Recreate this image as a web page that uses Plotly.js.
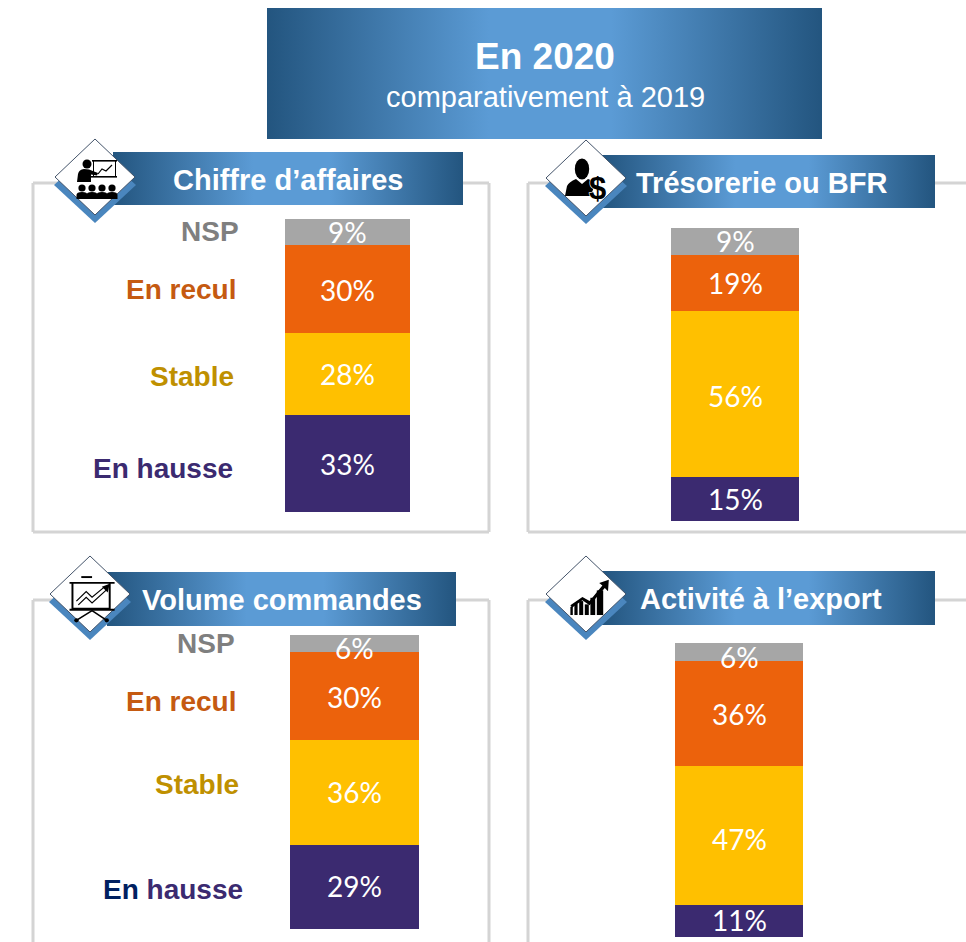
<!DOCTYPE html>
<html><head><meta charset="utf-8">
<script src="https://cdn.plot.ly/plotly-3.0.1.min.js"></script>
<style>html,body{margin:0;padding:0;background:#fff;overflow:hidden}#c{width:966px;height:942px}</style>
</head><body><div id="c"></div>
<script>
const W=966,H=942;
const seriesNames=["En hausse","Stable","En recul","NSP"];
const seriesColors=["#3B2A70","#FFC000","#EC620C","#A6A6A6"];
const labelColors=["#3B2A70","#BF9000","#C55A11","#7F7F7F"];
const chiffreValues=[33,28,30,9];
const tresorerieValues=[15,56,19,9];
const commandesValues=[29,36,30,6];
const exportValues=[11,47,36,6];
const panelTitles=["Chiffre d’affaires","Trésorerie ou BFR","Volume commandes","Activité à l’export"];
const mainTitle="En 2020";
const subTitle="comparativement à 2019";

const px=x=>x/W, py=y=>1-y/H;
function svgUri(s,w,h){return 'data:image/svg+xml;charset=utf-8,'+encodeURIComponent(`<svg xmlns="http://www.w3.org/2000/svg" width="${w}" height="${h}" viewBox="0 0 ${w} ${h}">${s}</svg>`);}
function grad(w,h){return svgUri(`<defs><linearGradient id="g" x1="0" x2="1" y1="0" y2="0"><stop offset="0" stop-color="#23557F"/><stop offset=".4" stop-color="#5B9BD5"/><stop offset=".62" stop-color="#5B9BD5"/><stop offset="1" stop-color="#23557F"/></linearGradient></defs><rect width="${w}" height="${h}" fill="url(#g)"/>`,w,h);}
function img(src,x0,y0,w,h){return {source:src,xref:'paper',yref:'paper',x:px(x0),y:py(y0),sizex:w/W,sizey:h/H,xanchor:'left',yanchor:'top',sizing:'stretch',layer:'above'};}

function person(x){return `<circle cx="${x}" cy="50" r="3.6"/><path d="M${x-5.5} 61 V57 Q${x-5.5} 54 ${x} 54 Q${x+5.5} 54 ${x+5.5} 57 V61Z"/>`;}
const icons={
 teach:`<g fill="#000"><circle cx="33" cy="26" r="4.5"/><path d="M23 44 L24 36 Q25 31.5 30 31 L35 31.5 L44 35 L43 37.5 L37 36.5 L37 44Z"/>
   <rect x="38" y="22" width="25" height="1.6"/><rect x="37" y="38" width="26" height="1.6"/><rect x="39" y="23" width="1" height="15"/><rect x="61" y="23" width="1" height="15"/>
   ${person(28)}${person(38)}${person(48)}${person(58)}</g>
   <path d="M44 36 L48 31 L52 33 L58 27" fill="none" stroke="#000" stroke-width="1.2"/>`,
 cash:`<g fill="#000"><ellipse cx="37" cy="30" rx="7.2" ry="10.5"/><path d="M20 57 L22 47 Q24 43 31 40 L37 45 L43 40 Q47 41 50 44 L46 57Z"/>
   </g><text x="52.5" y="60" font-family="Liberation Sans,Arial" font-weight="bold" font-size="31" text-anchor="middle" fill="#000" stroke="#fff" stroke-width="1.2" paint-order="stroke">$</text>`,
 board:`<g transform="translate(-3,0) scale(.98,.96)"><g stroke="#000" fill="none"><path d="M36 23 H47" stroke-width="2"/><path d="M24 29 H70" stroke-width="2"/><path d="M27 29 V56 H65 V29" stroke-width="2"/><path d="M24 57 H70" stroke-width="2"/>
   <path d="M47 58 L31 68 M47 58 L62 68" stroke-width="1.6"/><path d="M31 48 L41 38 L47 44 L60 33" stroke-width="1.2"/><path d="M33 52 L41 44 L47 50 L62 36" stroke-width="1.2"/></g>
   <circle cx="31" cy="68" r="2.2"/><circle cx="62" cy="68" r="2.2"/><path d="M57 33 L65 30 L63 39Z"/></g>`,
 bars:`<g transform="translate(11,10) scale(.8,.82)"><g fill="#000"><rect x="18" y="51" width="3" height="10"/><rect x="23" y="47" width="4" height="14"/><rect x="29" y="44" width="5" height="17"/><rect x="36" y="48" width="5" height="13"/><rect x="43" y="40" width="6" height="21"/><rect x="51" y="31" width="8" height="30"/>
   <path d="M18 49 L33 39 L42 44 L58 25 L54 22 L66 18 L65 32 L61 28 L42 49 L33 43 L20 52Z"/></g></g>`
};
function badge(icon){
 return svgUri(`<path d="M41 10 L82 47 L41 85 L0 47Z" fill="#4A86BE"/><path d="M41 1 L81 39 L41 77 L1 39Z" fill="#fff" stroke="#44546A" stroke-width="1"/>${icons[icon]}`,82,86);
}

const panels=[
 {vals:chiffreValues,xa:'x',ya:'y',bx:[285,410],by:[219,512],banner:[113,152,350,53],badge:[54,138],icon:'teach',titleX:288,titleY:180,
  labels:[[235,468],[236,376],[238,290],[241,232]],shift:[0,0,-1,0]},
 {vals:tresorerieValues,xa:'x2',ya:'y2',bx:[671,799],by:[228,521],banner:[602,155,333,53],badge:[545,139],icon:'cash',titleX:761,titleY:183,labels:null,shift:[0,-2,0,0]},
 {vals:commandesValues,xa:'x3',ya:'y3',bx:[290,419],by:[635,929],banner:[107,572,349,54],badge:[49,555],icon:'board',titleX:282,titleY:600,
  labels:[[245,889],[241,784],[238,701],[237,643]],shift:[1,0,-1,-4]},
 {vals:exportValues,xa:'x4',ya:'y4',bx:[675,803],by:[643,937],banner:[602,571,333,54],badge:[545,555],icon:'bars',titleX:761,titleY:599,labels:null,shift:[1,-3,0,-5]}
];

const traces=[],annotations=[],images=[],shapes=[];
const layout={width:W,height:H,margin:{l:0,r:0,t:0,b:0},paper_bgcolor:'#fff',plot_bgcolor:'rgba(0,0,0,0)',showlegend:false,barmode:'stack',bargap:0};

function line(x0,y0,x1,y1){shapes.push({type:'line',xref:'paper',yref:'paper',x0:px(x0),x1:px(x1),y0:py(y0),y1:py(y1),line:{color:'#D4D4D4',width:3},layer:'below'});}
line(33,183,33,532);line(33,532,489,532);line(489,532,489,183);line(489,183,440,183);line(33,183,70,183);
line(528,183,528,532);line(528,532,966,532);line(528,183,560,183);line(920,183,966,183);
line(33,600,33,942);line(489,600,489,942);line(33,600,70,600);line(440,600,489,600);
line(528,600,528,942);line(528,600,560,600);line(920,600,966,600);

images.push(img(grad(555,131),267,8,555,131));

panels.forEach((p,i)=>{
 const total=p.vals.reduce((a,b)=>a+b,0);
 const sx=i?String(i+1):'';
 layout['xaxis'+sx]={domain:[px(p.bx[0]),px(p.bx[1])],range:[-.5,.5],visible:false,fixedrange:true,anchor:'y'+sx,type:'linear'};
 layout['yaxis'+sx]={domain:[py(p.by[1]),py(p.by[0])],range:[0,total],visible:false,fixedrange:true,anchor:'x'+sx};
 let cum=0;
 seriesNames.forEach((n,k)=>{
  const v=p.vals[k];
  traces.push({type:'bar',x:[0],y:[v],width:[1],name:n,xaxis:p.xa,yaxis:p.ya,marker:{color:seriesColors[k],line:{width:0}},hoverinfo:'skip'});
  annotations.push({xref:p.xa,yref:p.ya,x:0,y:cum+v/2,yshift:p.shift[k],text:v+'%',showarrow:false,xanchor:'center',yanchor:'middle',font:{family:'Lato, Carlito, sans-serif',size:28,color:'#fff'}});
  cum+=v;
 });
 images.push(img(grad(p.banner[2],p.banner[3]),p.banner[0],p.banner[1],p.banner[2],p.banner[3]));
 images.push(img(badge(p.icon),p.badge[0],p.badge[1],82,86));
 annotations.push({xref:'paper',yref:'paper',x:px(p.titleX),y:py(p.titleY),text:'<b>'+panelTitles[i]+'</b>',showarrow:false,xanchor:'center',yanchor:'middle',font:{family:'Liberation Sans, Arial, sans-serif',size:29,color:'#fff'}});
 if(p.labels) p.labels.forEach((l,k)=>{
  let t=seriesNames[k];
  if(i===2&&k===0) t='<span style="color:#002060">En</span> hausse';
  annotations.push({xref:'paper',yref:'paper',x:px(l[0]),y:py(l[1]),text:'<b>'+t+'</b>',showarrow:false,xanchor:'right',yanchor:'middle',font:{family:'Liberation Sans, Arial, sans-serif',size:28,color:labelColors[k]}});
 });
});
annotations.push({xref:'paper',yref:'paper',x:px(545),y:py(57),text:'<b>'+mainTitle+'</b>',showarrow:false,xanchor:'center',yanchor:'middle',font:{family:'Liberation Sans, Arial, sans-serif',size:37,color:'#fff'}});
annotations.push({xref:'paper',yref:'paper',x:px(545),y:py(97),text:subTitle,showarrow:false,xanchor:'center',yanchor:'middle',font:{family:'Liberation Sans, Arial, sans-serif',size:29,color:'#fff'}});
layout.annotations=annotations;layout.images=images;layout.shapes=shapes;
Plotly.newPlot('c',traces,layout,{displayModeBar:false,staticPlot:true});
</script></body></html>
